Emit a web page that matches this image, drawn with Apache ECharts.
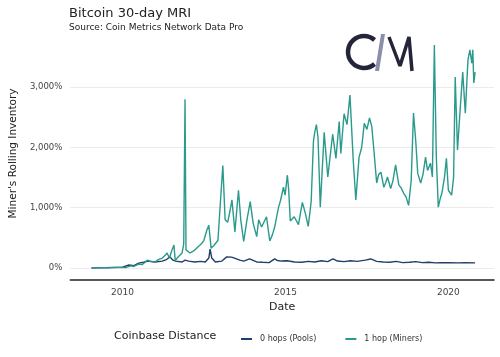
<!DOCTYPE html>
<html><head><meta charset="utf-8">
<script src="https://cdn.jsdelivr.net/npm/echarts@6/dist/echarts.min.js"></script>
<style>html,body{margin:0;padding:0;background:#fff}#c{width:500px;height:357px}</style>
</head><body><div id="c"></div>
<script>
var FONT = 'DejaVu Sans';
var titleText = 'Bitcoin 30-day MRI';
var subtitleText = 'Source: Coin Metrics Network Data Pro';
var xAxisName = 'Date';
var yAxisName = "Miner's Rolling Inventory";
var legendTitle = 'Coinbase Distance';
var seriesNames = ['0 hops (Pools)', '1 hop (Miners)'];
var xLabelYears = [2010, 2015, 2020];
var yTicks = [0, 1000, 2000, 3000];

var poolsDates = [2009.05,2009.5,2010.0,2010.2,2010.35,2010.5,2010.65,2010.77,2011.0,2011.22,2011.35,2011.46,2011.55,2011.63,2011.83,2011.92,2012.03,2012.22,2012.4,2012.54,2012.65,2012.69,2012.74,2012.85,2013.05,2013.2,2013.35,2013.5,2013.6,2013.72,2013.9,2014.12,2014.3,2014.5,2014.67,2014.75,2014.88,2015.05,2015.28,2015.5,2015.7,2015.9,2016.1,2016.3,2016.46,2016.6,2016.8,2017.0,2017.2,2017.45,2017.62,2017.8,2018.0,2018.2,2018.4,2018.6,2018.8,2019.0,2019.2,2019.4,2019.6,2019.8,2020.0,2020.3,2020.5,2020.82];
var poolsValues = [0,5,15,50,40,80,95,115,100,115,140,185,130,115,100,130,115,100,110,100,165,315,165,100,115,185,180,150,130,115,150,100,95,90,150,125,115,120,100,95,110,100,120,105,150,115,105,120,110,130,150,110,100,95,110,90,95,105,90,95,85,90,88,85,90,85];

var minersDates = [2009.05,2009.3,2009.6,2009.85,2010.0,2010.1,2010.25,2010.35,2010.5,2010.6,2010.77,2010.85,2011.0,2011.1,2011.22,2011.32,2011.37,2011.44,2011.52,2011.58,2011.62,2011.7,2011.83,2011.88,2011.92,2011.95,2012.07,2012.15,2012.22,2012.3,2012.38,2012.45,2012.5,2012.59,2012.65,2012.72,2012.8,2012.86,2012.93,2013.0,2013.08,2013.15,2013.23,2013.3,2013.36,2013.45,2013.56,2013.63,2013.72,2013.82,2013.92,2014.01,2014.12,2014.18,2014.27,2014.33,2014.42,2014.52,2014.6,2014.67,2014.79,2014.85,2014.94,2014.99,2015.06,2015.1,2015.15,2015.27,2015.33,2015.4,2015.52,2015.61,2015.7,2015.79,2015.86,2015.9,2015.95,2016.0,2016.07,2016.19,2016.3,2016.34,2016.45,2016.55,2016.65,2016.7,2016.8,2016.89,2016.98,2017.08,2017.16,2017.26,2017.34,2017.42,2017.5,2017.58,2017.65,2017.72,2017.8,2017.86,2017.93,2018.02,2018.08,2018.13,2018.23,2018.3,2018.38,2018.48,2018.55,2018.63,2018.7,2018.78,2018.86,2018.93,2019.0,2019.06,2019.15,2019.22,2019.3,2019.36,2019.45,2019.51,2019.57,2019.63,2019.69,2019.75,2019.8,2019.88,2019.94,2020.0,2020.1,2020.16,2020.21,2020.28,2020.36,2020.44,2020.52,2020.6,2020.66,2020.72,2020.75,2020.78,2020.82];
var minersValues = [0,2,5,8,10,5,35,25,65,55,130,110,100,140,165,215,250,165,300,380,120,180,250,400,2800,300,250,270,300,340,380,420,460,630,710,330,370,400,460,1050,1700,800,760,950,1130,600,1290,800,440,800,1100,745,520,800,680,700,850,450,550,680,1010,1120,1340,1210,1540,1300,780,850,820,720,1090,910,690,1100,2100,2250,2380,2170,1010,2250,1510,1540,2220,1820,2430,1900,2560,2380,2870,1800,1130,1840,2000,2400,2300,2490,2350,1920,1410,1550,1590,1340,1420,1510,1320,1450,1710,1380,1330,1240,1180,1040,1460,2570,2100,1570,1410,1550,1840,1620,1740,1510,3700,1840,1010,1150,1240,1500,1820,1290,1210,1500,3170,1960,2620,3250,2570,3450,3620,3400,3620,3070,3250];

function zip(a, b) { return a.map(function (v, i) { return [v, b[i]]; }); }

var chart = echarts.init(document.getElementById('c'), null, {renderer: 'canvas'});
chart.setOption({
  backgroundColor: '#fff',
  animation: false,
  textStyle: {fontFamily: FONT},
  title: {
    text: titleText, subtext: subtitleText, left: 64, top: 2, itemGap: 3,
    textStyle: {fontFamily: FONT, fontSize: 13, fontWeight: 'normal', color: '#222'},
    subtextStyle: {fontFamily: FONT, fontSize: 9, color: '#222'}
  },
  legend: {
    left: 236, top: 330, itemWidth: 11, itemHeight: 2, itemGap: 29, icon: 'rect',
    textStyle: {fontFamily: FONT, fontSize: 8, color: '#333', padding: [0, 0, 0, 3]},
    data: seriesNames
  },
  grid: {left: 68, right: 6, top: 39, bottom: 89, containLabel: false},
  xAxis: {
    type: 'value', min: 2008.4, max: 2021.4, interval: 0.2, offset: 12,
    name: xAxisName, nameLocation: 'middle', nameGap: 20,
    nameTextStyle: {fontFamily: FONT, fontSize: 11, color: '#222'},
    axisLine: {show: true, onZero: false, lineStyle: {color: '#222', width: 1.5}},
    axisTick: {show: false}, splitLine: {show: false},
    axisLabel: {
      fontFamily: FONT, fontSize: 9, color: '#444', margin: 8,
      formatter: function (v) {
        var r = Math.round(v);
        if (Math.abs(v - r) < 1e-6 && xLabelYears.indexOf(r) >= 0) return String(r);
        return '';
      }
    }
  },
  yAxis: {
    type: 'value', min: 0, max: 3800, interval: 1000,
    name: yAxisName, nameLocation: 'middle', nameGap: 50,
    nameTextStyle: {fontFamily: FONT, fontSize: 10.5, color: '#222'},
    axisLine: {show: false}, axisTick: {show: false},
    splitLine: {show: true, showMaxLine: false, lineStyle: {color: '#ebebeb', width: 1}},
    axisLabel: {
      fontFamily: FONT, fontSize: 8.5, color: '#444', margin: 8,
      formatter: function (v) {
        if (yTicks.indexOf(v) < 0) return '';
        return v.toLocaleString('en-US') + '%';
      }
    }
  },
  graphic: [
    {type: 'text', left: 114, top: 331, style: {text: legendTitle, font: '11px "DejaVu Sans"', fill: '#222'}},
    {type: 'arc', shape: {cx: 364, cy: 52, r: 16, startAngle: Math.PI * 0.27, endAngle: Math.PI * 1.73, clockwise: true},
      style: {stroke: '#24253a', lineWidth: 4.5, fill: null}},
    {type: 'polygon', shape: {points: [[381, 34], [385, 34], [379, 71], [375, 71]]}, style: {fill: '#8a8fab'}},
    {type: 'polyline', shape: {points: [[389, 37], [400, 66], [409, 37], [412, 71]]},
      style: {stroke: '#24253a', lineWidth: 3.5, fill: null, lineJoin: 'bevel'}}
  ],
  series: [
    {name: seriesNames[0], type: 'line', data: zip(poolsDates, poolsValues), showSymbol: false,
      lineStyle: {color: '#213d69', width: 1.4}, itemStyle: {color: '#213d69'}},
    {name: seriesNames[1], type: 'line', data: zip(minersDates, minersValues), showSymbol: false,
      lineStyle: {color: '#2a9a8c', width: 1.4}, itemStyle: {color: '#2a9a8c'}}
  ]
});
</script></body></html>
